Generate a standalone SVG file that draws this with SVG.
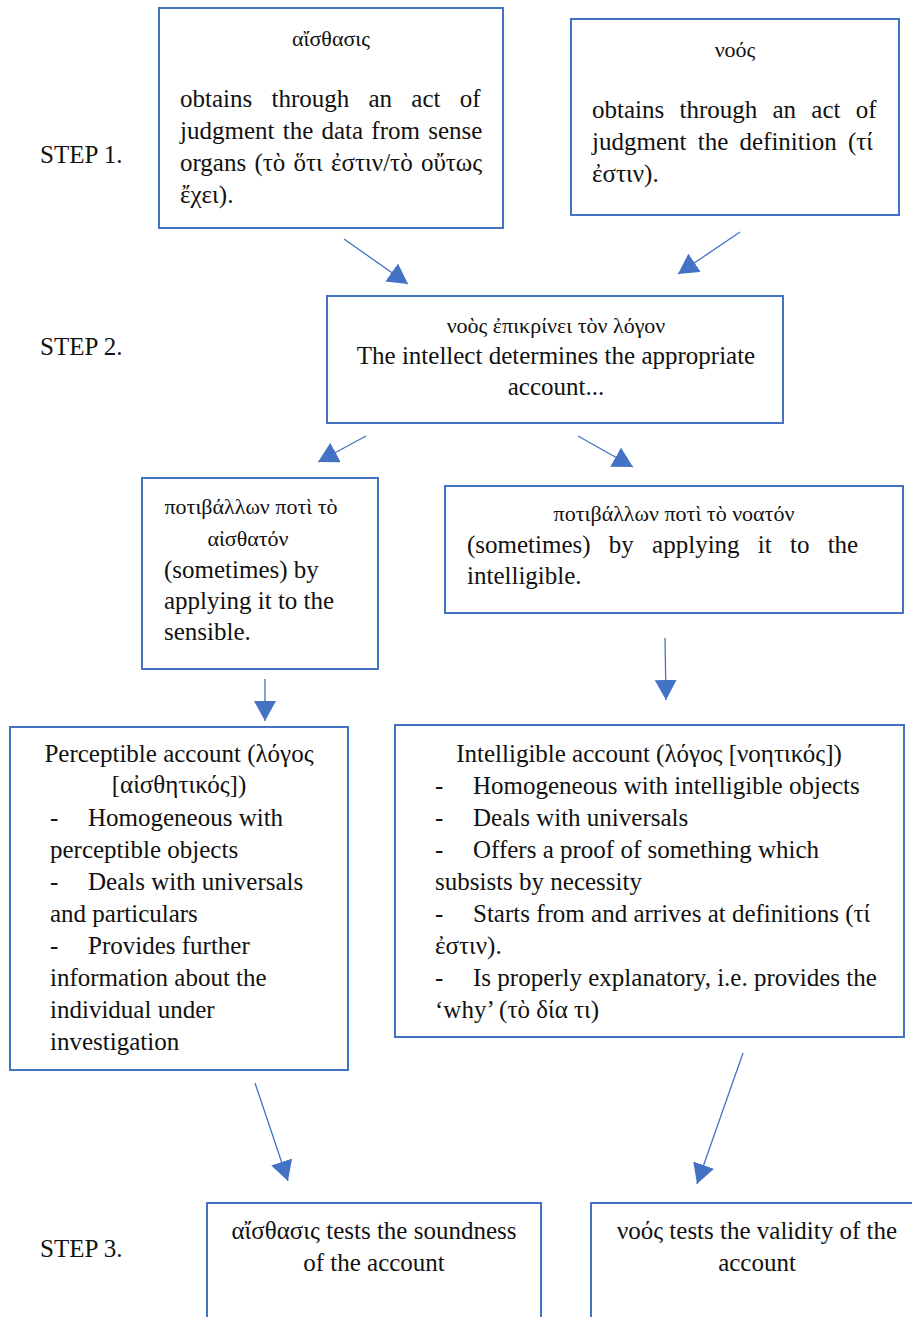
<svg xmlns="http://www.w3.org/2000/svg" width="912" height="1317" viewBox="0 0 912 1317">
<defs>
<marker id="ah" markerUnits="userSpaceOnUse" markerWidth="22" markerHeight="22" viewBox="0 0 22 22" refX="20" refY="11" orient="auto">
<path d="M0,0 L20,11 L0,22 Z" fill="#4472C4"/>
</marker>
</defs>
<rect width="912" height="1317" fill="#fff"/>
<g id="step-labels">
<text font-size="25" font-family="Times New Roman" fill="#111" x="40" y="163">STEP 1.</text>
<text font-size="25" font-family="Times New Roman" fill="#111" x="40" y="355">STEP 2.</text>
<text font-size="25" font-family="Times New Roman" fill="#111" x="40" y="1257">STEP 3.</text>
</g>

<g id="n-aisthasis">
<rect x="159" y="8" width="344" height="220" fill="#fff" stroke="#4472C4" stroke-width="2"/>
<text font-size="22" font-family="Times New Roman" fill="#111" text-anchor="middle" x="331" y="46">αἴσθασις</text>
<text font-size="25" font-family="Times New Roman" fill="#111" x="180" y="107" word-spacing="13">obtains through an act of</text>
<text font-size="25" font-family="Times New Roman" fill="#111" x="180" y="139" word-spacing="2">judgment the data from sense</text>
<text font-size="25" font-family="Times New Roman" fill="#111" x="180" y="171" word-spacing="2">organs (τὸ ὅτι ἐστιν/τὸ οὔτως</text>
<text font-size="25" font-family="Times New Roman" fill="#111" x="180" y="203">ἔχει).</text>
</g>

<g id="n-noos">
<rect x="571" y="19" width="328" height="196" fill="#fff" stroke="#4472C4" stroke-width="2"/>
<text font-size="22" font-family="Times New Roman" fill="#111" text-anchor="middle" x="735" y="57">νοός</text>
<text font-size="25" font-family="Times New Roman" fill="#111" x="592" y="118" word-spacing="9">obtains through an act of</text>
<text font-size="25" font-family="Times New Roman" fill="#111" x="592" y="150" word-spacing="5">judgment the definition (τί</text>
<text font-size="25" font-family="Times New Roman" fill="#111" x="592" y="182">ἐστιν).</text>
</g>

<g id="n-step2">
<rect x="327" y="296" width="456" height="127" fill="#fff" stroke="#4472C4" stroke-width="2"/>
<text font-size="22" font-family="Times New Roman" fill="#111" text-anchor="middle" x="556" y="333">νοὸς ἐπικρίνει τὸν λόγον</text>
<text font-size="25" font-family="Times New Roman" fill="#111" text-anchor="middle" x="556" y="364">The intellect determines the appropriate</text>
<text font-size="25" font-family="Times New Roman" fill="#111" text-anchor="middle" x="556" y="395">account...</text>
</g>

<g id="n-sensible">
<rect x="142" y="478" width="236" height="191" fill="#fff" stroke="#4472C4" stroke-width="2"/>
<text font-size="22" font-family="Times New Roman" fill="#111" text-anchor="middle" x="251" y="514">ποτιβάλλων ποτὶ τὸ</text>
<text font-size="22" font-family="Times New Roman" fill="#111" text-anchor="middle" x="248" y="546">αἰσθατόν</text>
<text font-size="25" font-family="Times New Roman" fill="#111" x="164" y="578">(sometimes) by</text>
<text font-size="25" font-family="Times New Roman" fill="#111" x="164" y="609">applying it to the</text>
<text font-size="25" font-family="Times New Roman" fill="#111" x="164" y="640">sensible.</text>
</g>

<g id="n-intelligible">
<rect x="445" y="486" width="458" height="127" fill="#fff" stroke="#4472C4" stroke-width="2"/>
<text font-size="22" font-family="Times New Roman" fill="#111" text-anchor="middle" x="674" y="521">ποτιβάλλων ποτὶ τὸ νοατόν</text>
<text font-size="25" font-family="Times New Roman" fill="#111" x="467" y="553" word-spacing="12">(sometimes) by applying it to the</text>
<text font-size="25" font-family="Times New Roman" fill="#111" x="467" y="584">intelligible.</text>
</g>

<g id="n-perceptible-account">
<rect x="10" y="727" width="338" height="343" fill="#fff" stroke="#4472C4" stroke-width="2"/>
<text font-size="25" font-family="Times New Roman" fill="#111" text-anchor="middle" x="179" y="762">Perceptible account (λόγος</text>
<text font-size="25" font-family="Times New Roman" fill="#111" text-anchor="middle" x="179" y="793">[αἰσθητικός])</text>
<text font-size="25" font-family="Times New Roman" fill="#111" x="50" y="826">-</text>
<text font-size="25" font-family="Times New Roman" fill="#111" x="88" y="826">Homogeneous with</text>
<text font-size="25" font-family="Times New Roman" fill="#111" x="50" y="858">perceptible objects</text>
<text font-size="25" font-family="Times New Roman" fill="#111" x="50" y="890">-</text>
<text font-size="25" font-family="Times New Roman" fill="#111" x="88" y="890">Deals with universals</text>
<text font-size="25" font-family="Times New Roman" fill="#111" x="50" y="922">and particulars</text>
<text font-size="25" font-family="Times New Roman" fill="#111" x="50" y="954">-</text>
<text font-size="25" font-family="Times New Roman" fill="#111" x="88" y="954">Provides further</text>
<text font-size="25" font-family="Times New Roman" fill="#111" x="50" y="986">information about the</text>
<text font-size="25" font-family="Times New Roman" fill="#111" x="50" y="1018">individual under</text>
<text font-size="25" font-family="Times New Roman" fill="#111" x="50" y="1050">investigation</text>
</g>

<g id="n-intelligible-account">
<rect x="395" y="725" width="509" height="312" fill="#fff" stroke="#4472C4" stroke-width="2"/>
<text font-size="25" font-family="Times New Roman" fill="#111" text-anchor="middle" x="649" y="762">Intelligible account (λόγος [νοητικός])</text>
<text font-size="25" font-family="Times New Roman" fill="#111" x="435" y="794">-</text>
<text font-size="25" font-family="Times New Roman" fill="#111" x="473" y="794">Homogeneous with intelligible objects</text>
<text font-size="25" font-family="Times New Roman" fill="#111" x="435" y="826">-</text>
<text font-size="25" font-family="Times New Roman" fill="#111" x="473" y="826">Deals with universals</text>
<text font-size="25" font-family="Times New Roman" fill="#111" x="435" y="858">-</text>
<text font-size="25" font-family="Times New Roman" fill="#111" x="473" y="858">Offers a proof of something which</text>
<text font-size="25" font-family="Times New Roman" fill="#111" x="435" y="890">subsists by necessity</text>
<text font-size="25" font-family="Times New Roman" fill="#111" x="435" y="922">-</text>
<text font-size="25" font-family="Times New Roman" fill="#111" x="473" y="922">Starts from and arrives at definitions (τί</text>
<text font-size="25" font-family="Times New Roman" fill="#111" x="435" y="954">ἐστιν).</text>
<text font-size="25" font-family="Times New Roman" fill="#111" x="435" y="986">-</text>
<text font-size="25" font-family="Times New Roman" fill="#111" x="473" y="986">Is properly explanatory, i.e. provides the</text>
<text font-size="25" font-family="Times New Roman" fill="#111" x="435" y="1018">‘why’ (τὸ δία τι)</text>
</g>

<g id="n-test-aisthasis">
<rect x="207" y="1203" width="334" height="130" fill="#fff" stroke="#4472C4" stroke-width="2"/>
<text font-size="25" font-family="Times New Roman" fill="#111" text-anchor="middle" x="374" y="1239">αἴσθασις tests the soundness</text>
<text font-size="25" font-family="Times New Roman" fill="#111" text-anchor="middle" x="374" y="1271">of the account</text>
</g>

<g id="n-test-noos">
<rect x="591" y="1203" width="340" height="130" fill="#fff" stroke="#4472C4" stroke-width="2"/>
<text font-size="25" font-family="Times New Roman" fill="#111" text-anchor="middle" x="757" y="1239">νοός tests the validity of the</text>
<text font-size="25" font-family="Times New Roman" fill="#111" text-anchor="middle" x="757" y="1271">account</text>
</g>

<g id="connectors" stroke="#4472C4" stroke-width="1.3" marker-end="url(#ah)">
<line x1="344" y1="239" x2="408" y2="284"/>
<line x1="740" y1="232" x2="678" y2="274"/>
<line x1="366" y1="436" x2="318" y2="462"/>
<line x1="578" y1="436" x2="633" y2="467"/>
<line x1="265" y1="679" x2="265" y2="721"/>
<line x1="665" y1="638" x2="666" y2="700"/>
<line x1="255" y1="1083" x2="288" y2="1181"/>
<line x1="743" y1="1053" x2="697" y2="1184"/>
</g>
</svg>
